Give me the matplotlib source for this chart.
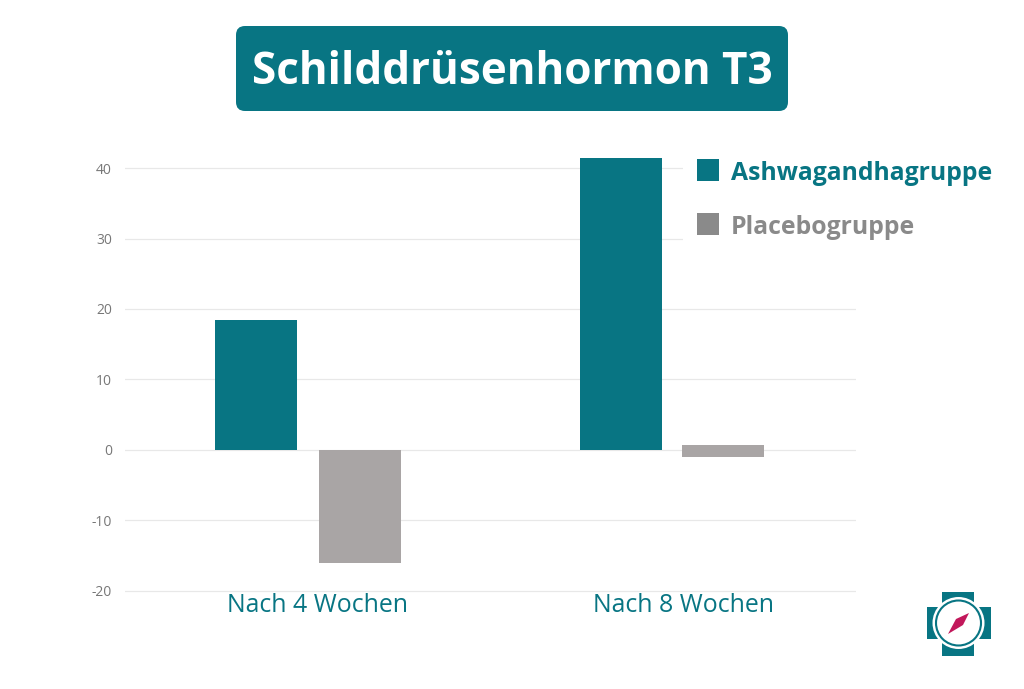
import matplotlib
matplotlib.use('Agg')
import matplotlib.pyplot as plt
from matplotlib.patches import Circle, FancyBboxPatch, Polygon, Rectangle
from matplotlib.transforms import ScaledTranslation

plt.rcParams['font.family'] = ['Open Sans', 'DejaVu Sans']
plt.rcParams['axes.unicode_minus'] = False

TEAL = '#087583'
BAR_GREY = '#a9a5a5'
LEGEND_GREY = '#8a8a8a'

W, H = 1024, 689

categories = ['Nach 4 Wochen', 'Nach 8 Wochen']
ashwagandha = [18.4, 41.42]
# the second placebo bar crosses the zero line, so it has a top and a bottom
placebo_top = [0, 0.7]
placebo_bottom = [-16, -1]
y_ticks = [-20, -10, 0, 10, 20, 30, 40]
title = 'Schilddrüsenhormon T3'
series_names = ['Ashwagandhagruppe', 'Placebogruppe']


def draw_logo(bg):
    bg.add_patch(Rectangle((942, 592), 32, 64, color=TEAL, lw=0))
    bg.add_patch(Rectangle((927, 607), 64, 32, color=TEAL, lw=0))
    bg.add_patch(Circle((958.5, 623), 26, fc='white', ec='none'))
    bg.add_patch(Circle((958.5, 623), 22.5, fc='white', ec=TEAL, lw=1.5))
    bg.add_patch(Polygon([(948, 634), (956, 619), (969, 613), (963, 625)],
                         closed=True, color='#c2185b', lw=0))


def main():
    fig = plt.figure(figsize=(W / 100, H / 100), dpi=100)

    # pixel coordinates for the title box, the logo and other decorations
    bg = fig.add_axes([0, 0, 1, 1])
    bg.set_xlim(0, W)
    bg.set_ylim(H, 0)
    bg.axis('off')

    box = FancyBboxPatch((244, 34), 536, 69,
                         boxstyle='round,pad=8,rounding_size=9',
                         fc=TEAL, ec='none')
    bg.add_patch(box)
    bg.text(512, 72, title, color='white', fontsize=31.7, fontweight='bold',
            ha='center', va='center')
    draw_logo(bg)

    # axes box: 125..856 px wide, 7.05 px per unit, value 0 at 450 px
    left, right = 125, 856
    top, bottom = 158, 594.5
    ax = fig.add_axes([left / W, 1 - bottom / H,
                       (right - left) / W, (bottom - top) / H])
    ax.patch.set_alpha(0)

    x = [0, 1]
    width = 0.2245
    ax.bar([i - 0.142 for i in x], ashwagandha, width, color=TEAL, zorder=3)
    heights = [t - b for t, b in zip(placebo_top, placebo_bottom)]
    ax.bar([0.142, 1.137], heights, width, bottom=placebo_bottom,
           color=BAR_GREY, zorder=3)

    ax.set_xlim(-0.5, 1.5)
    ax.set_ylim(-20.5, 41.42)
    ax.set_xticks(x)
    ax.set_xticklabels(categories, color=TEAL, fontsize=17.9)
    ax.set_yticks(y_ticks)
    ax.tick_params(axis='x', length=0, pad=-1)
    ax.tick_params(axis='y', length=0, pad=9.4, labelsize=10,
                   labelcolor='#777777')
    # category labels sit a little right of the category centres
    shift = ScaledTranslation(7.2 / 72, 0, fig.dpi_scale_trans)
    for label in ax.get_xticklabels():
        label.set_transform(label.get_transform() + shift)
    ax.grid(axis='y', color='#e8e8e8', lw=0.9, zorder=0)
    for spine in ax.spines.values():
        spine.set_visible(False)

    # white strip behind the legend hides the gridlines there
    bg2 = fig.add_axes([0, 0, 1, 1])
    bg2.set_xlim(0, W)
    bg2.set_ylim(H, 0)
    bg2.axis('off')
    bg2.add_patch(Rectangle((683, 150), 320, 95, color='white', lw=0))
    bg2.add_patch(Rectangle((697, 159), 22, 22, color=TEAL, lw=0))
    bg2.add_patch(Rectangle((697, 213), 22, 22, color=LEGEND_GREY, lw=0))
    bg2.text(731, 174, series_names[0], color=TEAL, fontsize=17.8,
             fontweight='bold', va='center')
    bg2.text(731, 228, series_names[1], color=LEGEND_GREY, fontsize=17.8,
             fontweight='bold', va='center')

    fig.savefig('out.png', dpi=100)


if __name__ == '__main__':
    main()
